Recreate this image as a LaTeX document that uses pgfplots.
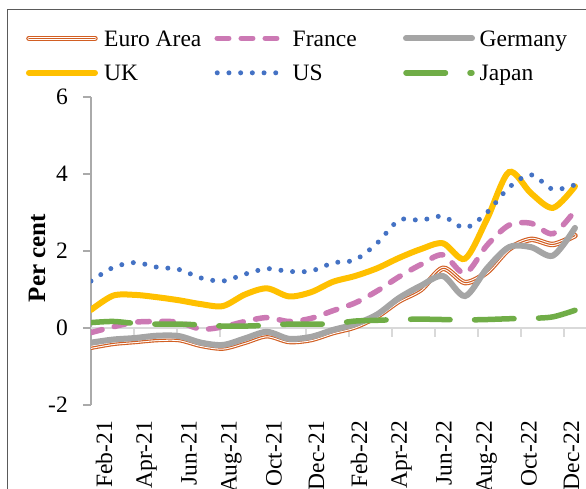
\documentclass[border=0pt]{standalone}
\usepackage{fontspec}
\setmainfont{Liberation Serif}
\usepackage{pgfplots}
\usepackage{pgfplotstable}
\pgfplotsset{compat=1.18}

\definecolor{euro}{RGB}{210,95,35}
\definecolor{france}{RGB}{204,121,180}
\definecolor{germany}{RGB}{165,165,165}
\definecolor{uk}{RGB}{255,192,0}
\definecolor{us}{RGB}{68,114,196}
\definecolor{japan}{RGB}{112,173,71}
\definecolor{axisgray}{RGB}{170,170,170}
\definecolor{zerogray}{RGB}{217,217,217}
\definecolor{framegray}{RGB}{90,90,90}

% month index (0 = Feb-21), inflation in per cent
\pgfplotstableread{
i  euro  france germany uk   us   japan
0  -0.50 -0.12  -0.38   0.47 1.22 0.14
1  -0.40  0.03  -0.30   0.84 1.57 0.17
2  -0.35  0.15  -0.26   0.86 1.70 0.12
3  -0.30  0.17  -0.20   0.80 1.58 0.10
4  -0.30  0.15  -0.21   0.72 1.52 0.10
5  -0.45 -0.03  -0.38   0.62 1.30 0.08
6  -0.52  0.03  -0.44   0.57 1.22 0.05
7  -0.37  0.17  -0.27   0.87 1.40 0.05
8  -0.20  0.27  -0.10   1.03 1.54 0.07
9  -0.35  0.17  -0.28   0.82 1.47 0.10
10 -0.30  0.25  -0.23   0.93 1.48 0.10
11 -0.12  0.45  -0.05   1.20 1.69 0.11
12  0.03  0.65   0.10   1.35 1.77 0.18
13  0.30  0.96   0.35   1.55 2.20 0.20
14  0.70  1.33   0.78   1.82 2.80 0.22
15  1.00  1.65   1.10   2.05 2.80 0.23
16  1.55  1.90   1.35   2.20 2.90 0.22
17  1.18  1.42   0.83   1.80 2.60 0.21
18  1.45  2.15   1.55   2.83 3.00 0.22
19  2.05  2.67   2.10   4.05 3.65 0.24
20  2.30  2.72   2.10   3.50 3.98 0.25
21  2.17  2.45   1.88   3.12 3.60 0.29
22  2.40  3.05   2.60   3.68 3.72 0.46
}\inflation

\begin{document}
\begin{tikzpicture}[x=1pt,y=1pt]
\useasboundingbox (0,0) rectangle (586,489);
\clip (0,0) rectangle (586,489);
\draw[framegray, line width=1.3pt] (7.3,479.8) rectangle (640,-40);

\begin{axis}[
    at={(91pt,84pt)}, anchor=south west,
    scale only axis, width=506pt, height=308pt,
    xmin=0, xmax=23, ymin=-2, ymax=6,
    font=\fontsize{23.5}{28}\selectfont,
    axis y line*=left, axis x line*=bottom,
    x axis line style={draw=none},
    y axis line style={draw=axisgray, line width=1.5pt},
    tick align=outside, major tick length=8pt,
    ytick={-2,0,2,4,6},
    ytick style={draw=axisgray, line width=1.5pt},
    /pgf/number format/assume math mode=true,
    yticklabel style={xshift=-15pt, anchor=east, inner sep=0pt},
    xtick={0.5909,2.5227,4.4545,6.3864,8.3182,10.25,12.1818,14.1136,16.0455,17.9773,19.9091,21.8409},
    xticklabels={Feb-21,Apr-21,Jun-21,Aug-21,Oct-21,Dec-21,Feb-22,Apr-22,Jun-22,Aug-22,Oct-22,Dec-22},
    xtick style={draw=none},
    xticklabel style={yshift=-8pt, rotate=90, anchor=east, inner sep=0pt},
    ylabel={Per cent},
    every axis y label/.style={at={(axis description cs:-0.0909,0.477)}, rotate=90, anchor=base,
        font=\bfseries\fontsize{25}{30}\selectfont},
    legend columns=3,
    legend cell align=left,
    legend image code/.code={\draw[#1] (0pt,0pt) -- (66pt,0pt);},
    legend style={draw=none, fill=none, inner sep=0pt, outer sep=0pt,
        column sep=0pt, row sep=10pt,
        at={(axis description cs:-0.12846,1.2303)}, anchor=north west,
        nodes={inner sep=0pt, text height=20pt, text depth=4.5pt},
        font=\fontsize{23.5}{28}\selectfont},
]

% zero line with its tick marks
\draw[zerogray, line width=1.5pt] (axis cs:0,0) -- (axis cs:23,0);
\pgfplotsinvokeforeach{1.9545,3.9091,5.8636,7.8182,9.7727,11.7273,13.6818,15.6364,17.5909,19.5455,21.5}{
    \draw[zerogray, line width=1.5pt] (axis cs:#1,0) -- ([yshift=-9pt]axis cs:#1,0);
}

\addplot[euro, line width=5.5pt, smooth, line cap=round,
    postaction={draw, white, line width=3.2pt},
    postaction={draw, euro, line width=1.1pt}]
    table[x=i, y=euro] {\inflation};
\addlegendentry{\makebox[116.5pt][l]{\hspace{6.2pt}Euro Area}}

\addplot[france, line width=5.5pt, smooth, line cap=round, dash pattern=on 11.5pt off 12.5pt]
    table[x=i, y=france] {\inflation};
\addlegendentry{\makebox[117pt][l]{\hspace{6.75pt}France}}

\addplot[germany, line width=6pt, smooth, line cap=round]
    table[x=i, y=germany] {\inflation};
\addlegendentry{\makebox[100pt][l]{\hspace{4.75pt}Germany}}

\addplot[uk, line width=6pt, smooth, line cap=round]
    table[x=i, y=uk] {\inflation};
\addlegendentry{\makebox[116.5pt][l]{\hspace{6.2pt}UK}}

\addplot[us, line width=5pt, smooth, line cap=round, dash pattern=on 0pt off 11.7pt]
    table[x=i, y=us] {\inflation};
\addlegendentry{\makebox[117pt][l]{\hspace{6.75pt}US}}

\addplot[japan, line width=5.5pt, smooth, line cap=round, dash pattern=on 39.5pt off 24.5pt]
    table[x=i, y=japan] {\inflation};
\addlegendentry{\makebox[100pt][l]{\hspace{4.75pt}Japan}}

\end{axis}
\end{tikzpicture}
\end{document}
